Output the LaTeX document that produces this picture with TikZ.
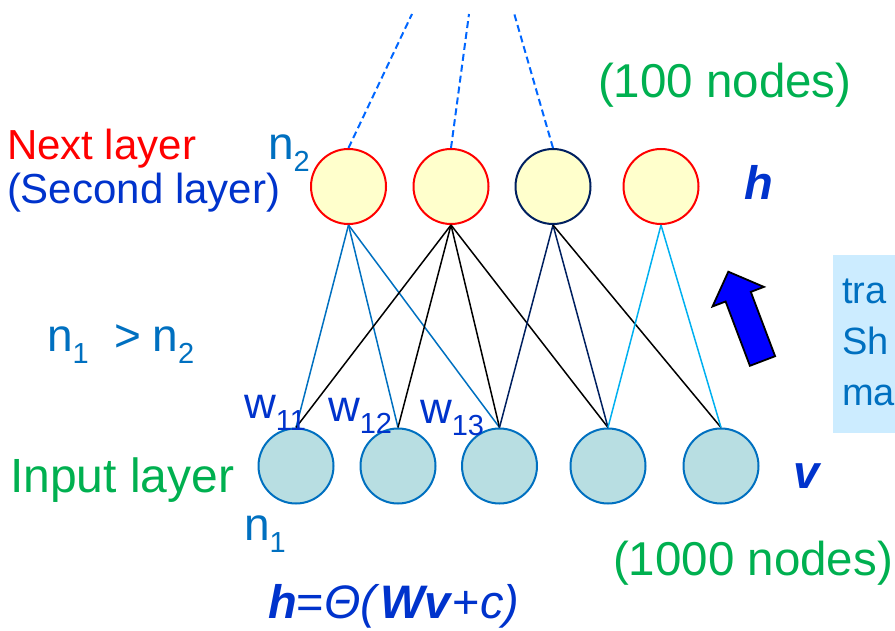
\documentclass[tikz,border=0pt]{standalone}
\usepackage{fontspec}
\setmainfont{Liberation Sans}
\definecolor{redA}{HTML}{FF0000}
\definecolor{blueA}{HTML}{0070C0}
\definecolor{blueB}{HTML}{0033CC}
\definecolor{greenA}{HTML}{00B050}
\definecolor{navyA}{HTML}{002060}
\definecolor{skyA}{HTML}{00B0F0}
\definecolor{dashblue}{HTML}{0066FF}
\definecolor{hfill}{HTML}{FFFFCC}
\definecolor{vfill}{HTML}{B8DEE2}
\definecolor{boxfill}{HTML}{CCECFF}
\definecolor{arrowblue}{HTML}{0000FF}
\newcommand{\sbs}[1]{\raisebox{-12pt}{\fontsize{29}{29}\selectfont #1}}
\newcommand{\fs}[1]{\fontsize{#1}{#1}\selectfont}
\begin{document}
\begin{tikzpicture}[x=1pt,y=-1pt,
  hid/.style={circle,minimum size=75pt,inner sep=0pt,fill=hfill,line width=2pt},
  vis/.style={circle,minimum size=75pt,inner sep=0pt,fill=vfill,draw=blueA,line width=2pt},
  lbl/.style={anchor=base west,inner sep=0pt,outer sep=0pt},
  conn/.style={line width=1.5pt},
  dashln/.style={draw=dashblue,line width=2pt,dash pattern=on 7pt off 4pt}]
\useasboundingbox (0,0) rectangle (895,631);

% side box
\fill[boxfill] (833,255) rectangle (895,433);
\node[lbl,text=blueA,font=\fs{38}] (b1) at (842,304) {tra};
\node[lbl,text=blueA,font=\fs{38}] (b2) at (842,355) {Sh};
\node[lbl,text=blueA,font=\fs{38}] (b3) at (842,405) {ma};

% hidden nodes
\node[hid,draw=redA]  (h1) at (348.5,186.5) {};
\node[hid,draw=redA]  (h2) at (451,186.5) {};
\node[hid,draw=navyA] (h3) at (553,186.5) {};
\node[hid,draw=redA]  (h4) at (661,186.5) {};

% input nodes
\node[vis] (v1) at (296,466) {};
\node[vis] (v2) at (398,466) {};
\node[vis] (v3) at (499.5,466) {};
\node[vis] (v4) at (608,466) {};
\node[vis] (v5) at (721,466) {};

% dashed lines to upper layer
\coordinate (t1) at (412,14);
\coordinate (t2) at (469,14);
\coordinate (t3) at (514,13);
\draw[dashln] (h1.north) -- (t1);
\draw[dashln] (h2.north) -- (t2);
\draw[dashln] (h3.north) -- (t3);

% connections
\foreach \v in {v1,v2,v3} \draw[conn,blueA] (h1.south) -- (\v.north);
\foreach \v in {v1,v2,v3,v4} \draw[conn,black] (h2.south) -- (\v.north);
\foreach \v in {v3,v4} \draw[conn,navyA] (h3.south) -- (\v.north);
\draw[conn,black] (h3.south) -- (v5.north);
\foreach \v in {v4,v5} \draw[conn,skyA] (h4.south) -- (\v.north);

% big arrow
\draw[fill=arrowblue,line width=1.8pt,line join=miter]
  (728.3,271.7) -- (763.9,286.9) -- (750.8,291.9) -- (775.1,356.2)
  -- (749.9,365.8) -- (725.6,301.5) -- (712.5,306.5) -- cycle;

% labels
\node[lbl,text=redA,font=\fs{42}] (nl) at (7,160) {Next layer};
\node[lbl,text=blueB,font=\fs{42}] (sl) at (7,204) {(Second layer)};
\node[lbl,text=blueA,font=\fs{46}] (n2) at (268,160) {n\sbs{2}};
\node[lbl,text=blueA,font=\fs{46}] (cmp) at (47,352) {n\sbs{1}\hspace{26pt}>\hspace{11pt}n\sbs{2}};
\node[lbl,text=greenA,font=\fs{47.5}] (hn) at (598,98) {(100 nodes)};
\node[lbl,text=blueB,font=\fs{47}\bfseries\itshape] (hl) at (744,200) {h};
\node[lbl,text=blueB,font=\fs{44}] (w1) at (244,418) {w\sbs{11}};
\node[lbl,text=blueB,font=\fs{44}] (w2) at (328,421) {w\sbs{12}};
\node[lbl,text=blueB,font=\fs{44}] (w3) at (420,423) {w\sbs{13}};
\node[lbl,text=greenA,font=\fs{48}] (il) at (10,492) {Input layer};
\node[lbl,text=blueB,font=\fs{47}\bfseries\itshape] (vl) at (793,488) {v};
\node[lbl,text=blueA,font=\fs{46}] (n1) at (244,540) {n\sbs{1}};
\node[lbl,text=greenA,font=\fs{47.5}] (vn) at (613,575) {(1000 nodes)};
\node[lbl,text=blueB,font=\fs{47}] (fm) at (268,618)
  {\textbf{\textit{h}}=\textit{Θ(}\textbf{\textit{Wv}}+\textit{c)}};
\end{tikzpicture}
\end{document}
